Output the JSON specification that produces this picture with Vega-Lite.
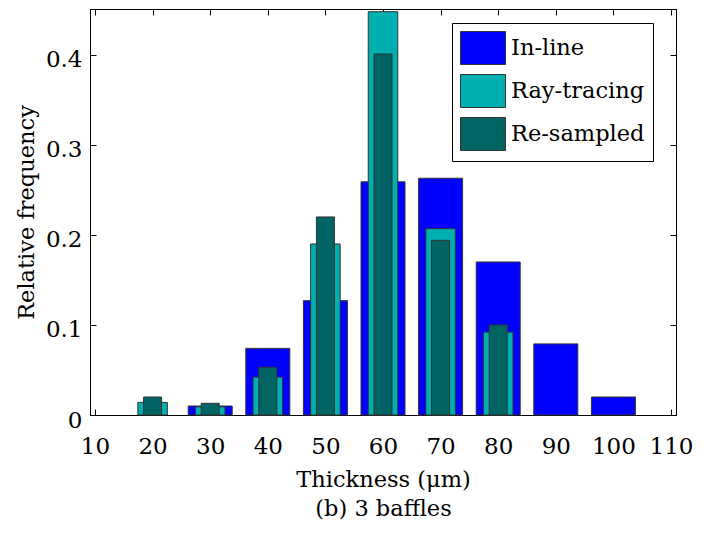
{
  "$schema": "https://vega.github.io/schema/vega-lite/v6.json",
  "width": 586,
  "height": 406,
  "autosize": {"type": "none"},
  "padding": {"left": 90, "top": 9, "right": 27, "bottom": 120},
  "background": "white",
  "config": {
    "view": {"stroke": "#000000", "strokeWidth": 1},
    "font": "DejaVu Serif",
    "axis": {
      "grid": false,
      "domainColor": "#000000",
      "tickColor": "#000000",
      "tickSize": -6,
      "labelFont": "DejaVu Serif",
      "labelFontSize": 23,
      "labelColor": "#000000",
      "titleFont": "DejaVu Serif",
      "titleFontSize": 22.5,
      "titleFontWeight": "normal",
      "titleColor": "#000000"
    },
    "legend": {
      "orient": "none",
      "legendX": 362,
      "legendY": 14,
      "padding": 8,
      "strokeColor": "#000000",
      "fillColor": "#ffffff",
      "symbolType": "M-1,-1L1.727,-1L1.727,1L-1,1Z",
      "symbolSize": 1089,
      "symbolStrokeColor": "#333333",
      "symbolStrokeWidth": 1,
      "symbolOpacity": 1,
      "labelFont": "DejaVu Serif",
      "labelFontSize": 22.5,
      "labelColor": "#000000",
      "labelOffset": 17,
      "rowPadding": 5,
      "labelLimit": 300
    }
  },
  "data": {
    "values": [
      {"thickness": 30, "series": "In-line", "freq": 0.010},
      {"thickness": 40, "series": "In-line", "freq": 0.074},
      {"thickness": 50, "series": "In-line", "freq": 0.127},
      {"thickness": 60, "series": "In-line", "freq": 0.259},
      {"thickness": 70, "series": "In-line", "freq": 0.263},
      {"thickness": 80, "series": "In-line", "freq": 0.170},
      {"thickness": 90, "series": "In-line", "freq": 0.079},
      {"thickness": 100, "series": "In-line", "freq": 0.020},
      {"thickness": 20, "series": "Ray-tracing", "freq": 0.014},
      {"thickness": 30, "series": "Ray-tracing", "freq": 0.009},
      {"thickness": 40, "series": "Ray-tracing", "freq": 0.042},
      {"thickness": 50, "series": "Ray-tracing", "freq": 0.190},
      {"thickness": 60, "series": "Ray-tracing", "freq": 0.448},
      {"thickness": 70, "series": "Ray-tracing", "freq": 0.207},
      {"thickness": 80, "series": "Ray-tracing", "freq": 0.092},
      {"thickness": 20, "series": "Re-sampled", "freq": 0.020},
      {"thickness": 30, "series": "Re-sampled", "freq": 0.013},
      {"thickness": 40, "series": "Re-sampled", "freq": 0.053},
      {"thickness": 50, "series": "Re-sampled", "freq": 0.220},
      {"thickness": 60, "series": "Re-sampled", "freq": 0.401},
      {"thickness": 70, "series": "Re-sampled", "freq": 0.194},
      {"thickness": 80, "series": "Re-sampled", "freq": 0.100}
    ]
  },
  "encoding": {
    "x": {"field": "thickness", "type": "quantitative", "scale": {"domain": [10, 110], "nice": false, "zero": false}},
    "y": {"field": "freq", "type": "quantitative", "scale": {"domain": [0, 0.451], "nice": false}},
    "color": {
      "field": "series",
      "type": "nominal",
      "scale": {"domain": ["In-line", "Ray-tracing", "Re-sampled"], "range": ["#0000ff", "#00b0b0", "#006464"]},
      "legend": {"title": null}
    }
  },
  "resolve": {"axis": {"x": "independent", "y": "independent"}},
  "layer": [
    {
      "transform": [{"filter": "datum.series === 'In-line'"}],
      "mark": {"type": "bar", "width": 44, "stroke": "#333333", "strokeWidth": 1, "opacity": 1},
      "encoding": {
        "x": {"field": "thickness", "type": "quantitative", "axis": {"orient": "bottom", "values": [10, 20, 30, 40, 50, 60, 70, 80, 90, 100, 110], "labelPadding": 44, "labelBaseline": "alphabetic", "labelFlush": false, "title": ["Thickness (μm)", "(b) 3 baffles"], "titleBaseline": "alphabetic", "titleY": 71, "titleLineHeight": 29}},
        "y": {"field": "freq", "type": "quantitative", "axis": {"orient": "left", "values": [0, 0.1, 0.2, 0.3, 0.4], "labelExpr": "datum.value == 0 ? '0' : format(datum.value, '.1f')", "labelBaseline": "middle", "labelOffset": 5, "labelPadding": 14, "labelFlush": false, "title": "Relative frequency", "titleBaseline": "alphabetic", "titleX": -57}}
      }
    },
    {
      "transform": [{"filter": "datum.series === 'Ray-tracing'"}],
      "mark": {"type": "bar", "width": 29.5, "stroke": "#333333", "strokeWidth": 1, "opacity": 1},
      "encoding": {
        "x": {"field": "thickness", "type": "quantitative", "axis": {"orient": "top", "values": [10, 20, 30, 40, 50, 60, 70, 80, 90, 100, 110], "labels": false, "title": null}},
        "y": {"field": "freq", "type": "quantitative", "axis": {"orient": "right", "values": [0, 0.1, 0.2, 0.3, 0.4], "labels": false, "title": null}}
      }
    },
    {
      "transform": [{"filter": "datum.series === 'Re-sampled'"}],
      "mark": {"type": "bar", "width": 18, "stroke": "#333333", "strokeWidth": 1, "opacity": 1},
      "encoding": {
        "x": {"field": "thickness", "type": "quantitative", "axis": null},
        "y": {"field": "freq", "type": "quantitative", "axis": null}
      }
    }
  ]
}
